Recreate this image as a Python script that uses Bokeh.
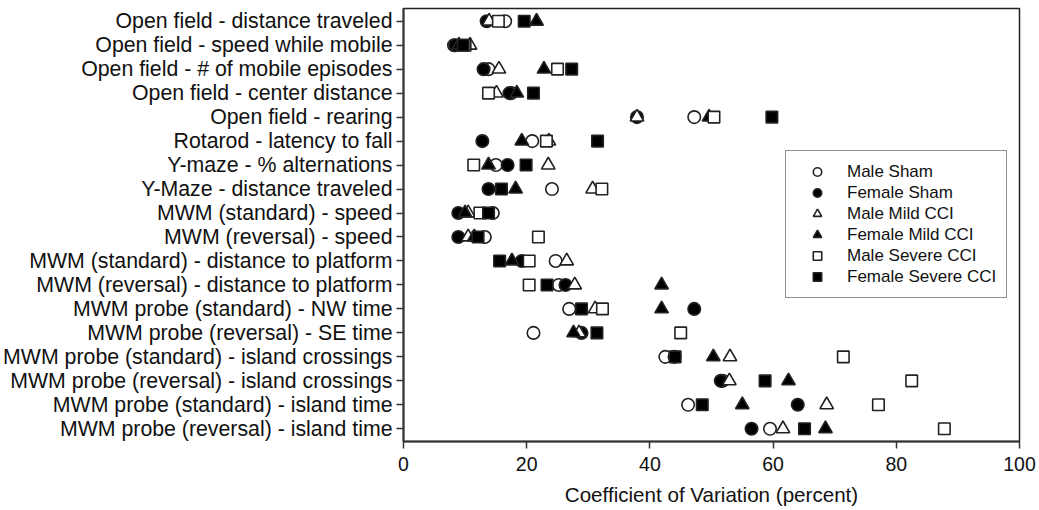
from bokeh.plotting import figure
from bokeh.models import Range1d, FixedTicker, Legend, LegendItem
from bokeh.embed import file_html
from bokeh.resources import INLINE

labels = [
    "Open field - distance traveled",
    "Open field - speed while mobile",
    "Open field - # of mobile episodes",
    "Open field - center distance",
    "Open field - rearing",
    "Rotarod - latency to fall",
    "Y-maze - % alternations",
    "Y-Maze - distance traveled",
    "MWM (standard) - speed",
    "MWM (reversal) - speed",
    "MWM (standard) - distance to platform",
    "MWM (reversal) - distance to platform",
    "MWM probe (standard) - NW time",
    "MWM probe (reversal) - SE time",
    "MWM probe (standard) - island crossings",
    "MWM probe (reversal) - island crossings",
    "MWM probe (standard) - island time",
    "MWM probe (reversal) - island time",
]

male_sham = [16.5, 8.2, 13.8, 17.5, 47.2, 20.9, 15.0, 24.1, 14.5, 13.2, 24.7, 25.2, 26.9, 21.1, 42.5, 51.8, 46.2, 59.5]
female_sham = [13.5, 8.4, 13.0, 17.2, 37.9, 12.8, 16.9, 13.8, 8.9, 8.9, 19.2, 26.3, 47.2, 28.9, 44.0, 51.5, 64.0, 56.5]
male_mild = [13.9, 10.8, 15.5, 15.1, 37.9, 23.6, 23.5, 30.7, 10.5, 10.5, 26.5, 27.8, 31.1, 28.5, 53.0, 52.9, 68.7, 61.6]
female_mild = [21.6, 9.0, 22.8, 18.4, 49.6, 19.2, 13.8, 18.2, 10.0, 11.5, 17.6, 41.9, 41.9, 27.6, 50.3, 62.5, 55.0, 68.5]
male_severe = [15.4, 10.0, 25.0, 13.8, 50.4, 23.2, 11.4, 32.2, 12.4, 21.9, 20.4, 20.4, 32.3, 45.0, 71.4, 82.5, 77.1, 87.8]
female_severe = [19.6, 9.7, 27.3, 21.1, 59.8, 31.5, 19.9, 15.9, 13.8, 12.1, 15.6, 23.3, 28.9, 31.4, 44.1, 58.7, 48.5, 65.1]

x_ticks = [0, 20, 40, 60, 80, 100]
x_title = "Coefficient of Variation (percent)"

FONT = "Liberation Sans"
rows = list(range(1, len(labels) + 1))

p = figure(width=1039, height=510, output_backend="svg", toolbar_location=None,
           x_range=Range1d(0, 100), y_range=Range1d(18.53, 0.47),
           min_border_left=403, min_border_right=20, min_border_top=8, min_border_bottom=69)
p.grid.visible = False
p.outline_line_color = "#222222"
p.outline_line_width = 1.5
p.background_fill_color = "white"
p.border_fill_color = "white"

p.xaxis.ticker = FixedTicker(ticks=x_ticks)
p.xaxis.axis_label = x_title
p.yaxis.ticker = FixedTicker(ticks=rows)
p.yaxis.major_label_overrides = {r: l for r, l in zip(rows, labels)}

for ax in (p.xaxis[0], p.yaxis[0]):
    ax.axis_line_color = "#333333"
    ax.axis_line_width = 2
    ax.major_tick_line_color = "#333333"
    ax.major_tick_line_width = 1.5
    ax.major_tick_out = 7
    ax.major_tick_in = 0
    ax.minor_tick_out = 0
    ax.minor_tick_in = 0
    ax.major_label_text_font = FONT
    ax.major_label_text_color = "#111111"

p.xaxis.major_label_text_font_size = "19.5px"
p.xaxis.major_label_standoff = 8
p.xaxis.axis_label_text_font = FONT
p.xaxis.axis_label_text_font_size = "20.6px"
p.xaxis.axis_label_text_font_style = "normal"
p.xaxis.axis_label_text_color = "#111111"
p.xaxis.axis_label_standoff = 9
p.yaxis.major_label_text_font_size = "21.3px"
p.yaxis.major_label_standoff = 4

series = [
    ("Male Sham", male_sham, "circle", 12.5, "white"),
    ("Female Sham", female_sham, "circle", 12.5, "black"),
    ("Male Mild CCI", male_mild, "triangle", 13.5, "white"),
    ("Female Mild CCI", female_mild, "triangle", 13.5, "black"),
    ("Male Severe CCI", male_severe, "square", 11.5, "white"),
    ("Female Severe CCI", female_severe, "square", 11.5, "black"),
]

items = []
for name, vals, marker, size, fill in series:
    r = p.scatter(vals, rows, marker=marker, size=size, fill_color=fill,
                  line_color="#222222", line_width=1.6)
    items.append(LegendItem(label=name, renderers=[r]))

legend = Legend(items=items, location=(382, 143), padding=10, spacing=0,
                margin=0, glyph_width=42, glyph_height=21, label_height=21,
                label_standoff=9, border_line_color="#222222", border_line_width=1.5,
                label_text_font=FONT, label_text_font_size="17px",
                label_text_color="#111111", background_fill_color="white",
                background_fill_alpha=1.0)
p.add_layout(legend, "center")

open("out.html", "w").write(file_html(p, INLINE))
